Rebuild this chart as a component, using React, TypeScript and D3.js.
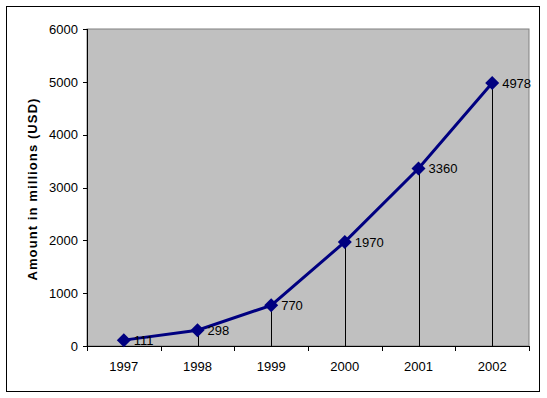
import React from 'react';
import * as d3 from 'd3';

const years = ['1997', '1998', '1999', '2000', '2001', '2002'];
const amounts = [111, 298, 770, 1970, 3360, 4978];
const yTicks = [0, 1000, 2000, 3000, 4000, 5000, 6000];

const W = 547;
const H = 398;
const plot = { left: 87, top: 29, right: 529, bottom: 346 };

const App: React.FC = () => {
  const x = d3.scaleBand<string>()
    .domain(years)
    .range([plot.left, plot.right])
    .paddingInner(0)
    .paddingOuter(0);

  const y = d3.scaleLinear()
    .domain([0, 6000])
    .range([plot.bottom, plot.top]);

  const cx = (d: string) => (x(d) as number) + x.bandwidth() / 2;

  const line = d3.line<number>()
    .x((_, i) => cx(years[i]))
    .y(d => y(d));

  // square diamond marker (Excel style)
  const r = 7;
  const diamond = `M0,${-r}L${r},0L0,${r}L${-r},0Z`;

  const font = 'Arial, "Liberation Sans", sans-serif';

  return (
    <svg width={W} height={H} style={{ position: 'absolute', left: 0, top: 0 }} fontFamily={font}>
      <rect x={0} y={0} width={W} height={H} fill="#fff" />
      {/* chart frame */}
      <rect x={6.5} y={6.5} width={533} height={385} fill="none" stroke="#000" strokeWidth={1} />

      {/* plot area */}
      <rect x={plot.left} y={plot.top} width={plot.right - plot.left} height={plot.bottom - plot.top}
        fill="#c0c0c0" stroke="#808080" strokeWidth={1} />

      {/* drop lines */}
      {amounts.map((v, i) => (
        <line key={'d' + i} x1={Math.round(cx(years[i])) + 0.5} x2={Math.round(cx(years[i])) + 0.5}
          y1={y(v)} y2={plot.bottom} stroke="#000" strokeWidth={1} />
      ))}

      {/* axes */}
      <line x1={plot.left + 0.5} x2={plot.left + 0.5} y1={plot.top} y2={plot.bottom} stroke="#000" />
      <line x1={plot.left - 4} x2={plot.right} y1={plot.bottom + 0.5} y2={plot.bottom + 0.5} stroke="#000" />
      {yTicks.map(t => (
        <g key={'yt' + t}>
          <line x1={plot.left - 4} x2={plot.left} y1={Math.round(y(t)) + 0.5} y2={Math.round(y(t)) + 0.5} stroke="#000" />
          <text x={78} y={y(t)} dy="0.36em" textAnchor="end" fontSize={13} fill="#000">{t}</text>
        </g>
      ))}
      {years.concat(['end']).map((yr, i) => {
        const xx = Math.round(plot.left + i * x.bandwidth()) + 0.5;
        return <line key={'xt' + i} x1={xx} x2={xx} y1={plot.bottom} y2={plot.bottom + 5} stroke="#000" />;
      })}
      {years.map(yr => (
        <text key={'xl' + yr} x={cx(yr)} y={371} textAnchor="middle" fontSize={13} fill="#000">{yr}</text>
      ))}

      {/* axis title */}
      <text transform={`translate(37,189) rotate(-90)`} textAnchor="middle"
        fontSize={13} fontWeight="bold" letterSpacing={1.1} fill="#000">Amount in millions (USD)</text>

      {/* series */}
      <path d={line(amounts) ?? ''} fill="none" stroke="#000080" strokeWidth={3} />
      {amounts.map((v, i) => (
        <path key={'m' + i} d={diamond} transform={`translate(${cx(years[i])},${y(v)})`} fill="#000080" />
      ))}
      {amounts.map((v, i) => (
        <text key={'l' + i} x={cx(years[i]) + 10} y={y(v)} dy="0.36em" fontSize={13} fill="#000">{v}</text>
      ))}
    </svg>
  );
};

export default App;
